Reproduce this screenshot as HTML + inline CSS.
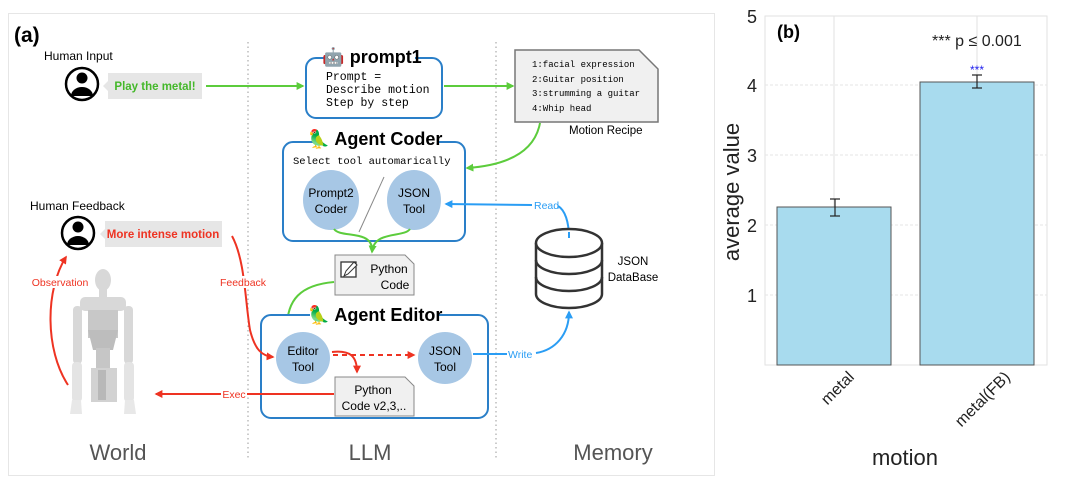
<!DOCTYPE html>
<html><head><meta charset="utf-8"><style>
html,body{margin:0;padding:0;background:#fff;}
svg{display:block;font-family:"Liberation Sans",sans-serif;}
.m{font-family:"Liberation Mono",monospace;}
</style></head><body>
<svg width="1080" height="490" viewBox="0 0 1080 490" xmlns="http://www.w3.org/2000/svg">
<defs>
<marker id="ag" viewBox="0 0 10 10" refX="8" refY="5" markerWidth="4" markerHeight="4" orient="auto"><path d="M0,0L10,5L0,10z" fill="#5ccc3c"/></marker>
<marker id="ar" viewBox="0 0 10 10" refX="8" refY="5" markerWidth="4" markerHeight="4" orient="auto"><path d="M0,0L10,5L0,10z" fill="#ee3322"/></marker>
<marker id="ab" viewBox="0 0 10 10" refX="8" refY="5" markerWidth="4" markerHeight="4" orient="auto"><path d="M0,0L10,5L0,10z" fill="#2a9df4"/></marker>
</defs>
<rect x="8.5" y="13.5" width="706" height="462" fill="#fff" stroke="#e6e6e6"/>
<text x="14" y="42" font-size="21" font-weight="bold">(a)</text>
<line x1="248" y1="42" x2="248" y2="458" stroke="#999" stroke-dasharray="1.5,3"/>
<line x1="496" y1="42" x2="496" y2="458" stroke="#999" stroke-dasharray="1.5,3"/>

<!-- human input -->
<text x="44" y="60" font-size="12">Human Input</text>
<circle cx="82" cy="84" r="16" fill="#fff" stroke="#000" stroke-width="2.5"/>
<circle cx="82" cy="78" r="5.5"/><path d="M71,96a11,9 0 0 1 22,0z"/>
<path d="M108,73h94v26h-94v-8l-5,-5l5,-5z" fill="#e6e6e6"/>
<text x="155" y="90" font-size="11.5" font-weight="bold" fill="#44b82a" text-anchor="middle">Play the metal!</text>
<line x1="206" y1="86" x2="303" y2="86" stroke="#5ccc3c" stroke-width="2" marker-end="url(#ag)"/>

<!-- prompt1 -->
<rect x="306" y="58" width="136" height="60" rx="10" fill="#fff" stroke="#2a7fc8" stroke-width="2"/>
<rect x="325" y="48" width="90" height="16" fill="#fff"/>
<text x="372" y="63" font-size="18" font-weight="bold" text-anchor="middle">🤖 prompt1</text>
<text x="326" y="80" font-size="11.5" class="m">Prompt =</text>
<text x="326" y="93" font-size="11.5" class="m">Describe motion</text>
<text x="326" y="106" font-size="11.5" class="m">Step by step</text>
<line x1="444" y1="86" x2="513" y2="86" stroke="#5ccc3c" stroke-width="2" marker-end="url(#ag)"/>

<!-- motion recipe -->
<path d="M515,50H639L658,69V122H515Z" fill="#f0f0f0" stroke="#777" stroke-width="1.5"/>
<g font-size="9" class="m"><text x="532" y="67">1:facial expression</text><text x="532" y="82">2:Guitar position</text><text x="532" y="96">3:strumming a guitar</text><text x="532" y="111">4:Whip head</text></g>
<text x="569" y="134" font-size="11.5">Motion Recipe</text>
<path d="M540,123C535,150 510,165 467,168" fill="none" stroke="#5ccc3c" stroke-width="2" marker-end="url(#ag)"/>

<!-- agent coder -->
<rect x="283" y="142" width="182" height="99" rx="10" fill="#fff" stroke="#2a7fc8" stroke-width="2"/>
<rect x="313" y="132" width="125" height="16" fill="#fff"/>
<text x="375" y="145" font-size="18" font-weight="bold" text-anchor="middle">🦜 Agent Coder</text>
<text x="293" y="164" font-size="10.5" class="m">Select tool automarically</text>
<line x1="384" y1="177" x2="359" y2="232" stroke="#888"/>
<ellipse cx="331" cy="200" rx="28" ry="30" fill="#a7c7e5"/>
<ellipse cx="414" cy="200" rx="27" ry="30" fill="#a7c7e5"/>
<text x="331" y="197" font-size="12" text-anchor="middle">Prompt2</text><text x="331" y="213" font-size="12" text-anchor="middle">Coder</text>
<text x="414" y="197" font-size="12" text-anchor="middle">JSON</text><text x="414" y="213" font-size="12" text-anchor="middle">Tool</text>
<path d="M334,229C340,238 370,230 372,248" fill="none" stroke="#5ccc3c" stroke-width="2"/>
<path d="M410,229C404,238 374,230 372,252" fill="none" stroke="#5ccc3c" stroke-width="2" marker-end="url(#ag)"/>
<!-- read -->
<path d="M569,238C569,222 565,210 558,206" fill="none" stroke="#2a9df4" stroke-width="2"/>
<line x1="532" y1="205" x2="446" y2="204" stroke="#2a9df4" stroke-width="2" marker-end="url(#ab)"/>
<text x="534" y="209" font-size="10.5" fill="#2a9df4">Read</text>

<!-- python code -->
<path d="M335,255H405L414,264V295H335Z" fill="#f0f0f0" stroke="#888"/>
<rect x="341" y="262" width="15" height="15" fill="#fff" stroke="#333" stroke-width="1.3"/>
<path d="M344,276l2,-5l8,-9l3,3l-9,9z" fill="#fff" stroke="#333"/>
<text x="389" y="273" font-size="12" text-anchor="middle">Python</text>
<text x="395" y="289" font-size="12" text-anchor="middle">Code</text>
<path d="M334,282C300,285 287,300 287,328" fill="none" stroke="#5ccc3c" stroke-width="2" marker-end="url(#ag)"/>

<!-- agent editor -->
<rect x="261" y="315" width="227" height="103" rx="10" fill="#fff" stroke="#2a7fc8" stroke-width="2"/>
<rect x="310" y="306" width="128" height="16" fill="#fff"/>
<text x="375" y="321" font-size="18" font-weight="bold" text-anchor="middle">🦜 Agent Editor</text>
<ellipse cx="303" cy="358" rx="27" ry="26" fill="#a7c7e5"/>
<ellipse cx="445" cy="358" rx="27" ry="26" fill="#a7c7e5"/>
<text x="303" y="355" font-size="12" text-anchor="middle">Editor</text><text x="303" y="371" font-size="12" text-anchor="middle">Tool</text>
<text x="445" y="355" font-size="12" text-anchor="middle">JSON</text><text x="445" y="371" font-size="12" text-anchor="middle">Tool</text>
<line x1="333" y1="355" x2="414" y2="355" stroke="#ee3322" stroke-width="2" stroke-dasharray="5,4" marker-end="url(#ar)"/>
<path d="M332,352C350,350 357,356 357,372" fill="none" stroke="#ee3322" stroke-width="2" marker-end="url(#ar)"/>
<path d="M335,377H405L414,386V416H335Z" fill="#f0f0f0" stroke="#888"/>
<text x="373" y="394" font-size="12" text-anchor="middle">Python</text>
<text x="374" y="410" font-size="12" text-anchor="middle">Code v2,3,..</text>
<line x1="334" y1="394" x2="156" y2="394" stroke="#ee3322" stroke-width="2" marker-end="url(#ar)"/>
<rect x="221" y="388" width="26" height="12" fill="#fff"/>
<text x="234" y="398" font-size="10.5" fill="#ee3322" text-anchor="middle">Exec</text>
<!-- write -->
<line x1="473" y1="354" x2="507" y2="354" stroke="#2a9df4" stroke-width="2"/>
<text x="508" y="358" font-size="10.5" fill="#2a9df4">Write</text>
<path d="M536,353C555,350 569,335 569,312" fill="none" stroke="#2a9df4" stroke-width="2" marker-end="url(#ab)"/>

<!-- database -->
<g fill="#fff" stroke="#333" stroke-width="2.5">
<path d="M536,243V294A33,14 0 0 0 602,294V243"/>
<ellipse cx="569" cy="243" rx="33" ry="14"/>
<path d="M536,260A33,14 0 0 0 602,260" fill="none"/>
<path d="M536,277A33,14 0 0 0 602,277" fill="none"/>
</g>
<line x1="569" y1="238" x2="569" y2="232" stroke="#2a9df4" stroke-width="2"/>
<text x="633" y="265" font-size="11.5" text-anchor="middle">JSON</text>
<text x="633" y="281" font-size="11.5" text-anchor="middle">DataBase</text>

<!-- human feedback -->
<text x="30" y="210" font-size="12">Human Feedback</text>
<circle cx="78" cy="233" r="16" fill="#fff" stroke="#000" stroke-width="2.5"/>
<circle cx="78" cy="227" r="5.5"/><path d="M67,245a11,9 0 0 1 22,0z"/>
<path d="M105,221h117v26h-117v-8l-5,-5l5,-5z" fill="#e6e6e6"/>
<text x="163" y="238" font-size="11.5" font-weight="bold" fill="#ee3322" text-anchor="middle">More intense motion</text>
<path d="M232,236C245,260 245,300 250,330C255,350 262,356 273,357" fill="none" stroke="#ee3322" stroke-width="2" marker-end="url(#ar)"/>
<rect x="219" y="276" width="48" height="12" fill="#fff"/>
<text x="243" y="286" font-size="10.5" fill="#ee3322" text-anchor="middle">Feedback</text>
<path d="M68,385C45,350 45,290 66,257" fill="none" stroke="#ee3322" stroke-width="2" marker-end="url(#ar)"/>
<rect x="28" y="276" width="62" height="12" fill="#fff"/>
<text x="60" y="286" font-size="10.5" fill="#ee3322" text-anchor="middle">Observation</text>

<!-- robot -->
<g fill="#d8d8d8">
<ellipse cx="103" cy="280" rx="8" ry="11"/>
<rect x="99" y="289" width="8" height="8"/>
<rect x="80" y="297" width="46" height="14" rx="5"/>
<rect x="88" y="310" width="30" height="28" fill="#c8c8c8"/>
<path d="M88,330h30l-5,20h-20z" fill="#bdbdbd"/>
<rect x="96" y="348" width="14" height="22" fill="#c6c6c6"/>
<rect x="91" y="368" width="26" height="34" fill="#d2d2d2"/>
<rect x="98" y="370" width="8" height="30" fill="#b8b8b8"/>
<rect x="73" y="306" width="9" height="58" rx="4"/>
<rect x="124" y="306" width="9" height="58" rx="4"/>
<rect x="72" y="362" width="10" height="40" rx="4" fill="#e4e4e4"/>
<rect x="124" y="362" width="10" height="40" rx="4" fill="#e4e4e4"/>
<path d="M72,400l-2,14h12l-1,-14z" fill="#e8e8e8"/>
<path d="M125,400l-1,14h12l-2,-14z" fill="#e8e8e8"/>
</g>

<g font-size="22" fill="#555" text-anchor="middle">
<text x="118" y="460">World</text><text x="370" y="460">LLM</text><text x="613" y="460">Memory</text>
</g>

<!-- chart b -->
<rect x="765" y="16" width="282" height="349" fill="#fff" stroke="#e2e2e2"/>
<g stroke="#e6e6e6" stroke-dasharray="3,2">
<line x1="765" y1="85" x2="1047" y2="85"/><line x1="765" y1="155" x2="1047" y2="155"/>
<line x1="765" y1="225" x2="1047" y2="225"/><line x1="765" y1="295" x2="1047" y2="295"/>
</g>
<line x1="834" y1="16" x2="834" y2="365" stroke="#e2e2e2"/>
<line x1="977" y1="16" x2="977" y2="365" stroke="#e2e2e2"/>
<rect x="777" y="207" width="114" height="158" fill="#a8dbee" stroke="#555" stroke-width="1"/>
<rect x="920" y="82" width="114" height="283" fill="#a8dbee" stroke="#555" stroke-width="1"/>
<g stroke="#222" stroke-width="1.2">
<line x1="835" y1="199" x2="835" y2="216"/><line x1="830" y1="199" x2="840" y2="199"/><line x1="830" y1="216" x2="840" y2="216"/>
<line x1="977" y1="75" x2="977" y2="88"/><line x1="972" y1="75" x2="982" y2="75"/><line x1="972" y1="88" x2="982" y2="88"/>
</g>
<text x="777" y="38" font-size="18" font-weight="bold">(b)</text>
<text x="932" y="46" font-size="16" fill="#222">*** p ≤ 0.001</text>
<text x="977" y="74" font-size="12" fill="#2222ee" text-anchor="middle">***</text>
<g font-size="18" fill="#222" text-anchor="middle">
<text x="752" y="23">5</text><text x="752" y="92">4</text><text x="752" y="162">3</text><text x="752" y="232">2</text><text x="752" y="302">1</text>
</g>
<text transform="translate(739,192) rotate(-90)" font-size="22" fill="#222" text-anchor="middle">average value</text>
<text transform="translate(855,378) rotate(-45)" font-size="16" fill="#222" text-anchor="end">metal</text>
<text transform="translate(1011,378) rotate(-45)" font-size="16" fill="#222" text-anchor="end">metal(FB)</text>
<text x="905" y="465" font-size="22" fill="#222" text-anchor="middle">motion</text>
</svg>
</body></html>
